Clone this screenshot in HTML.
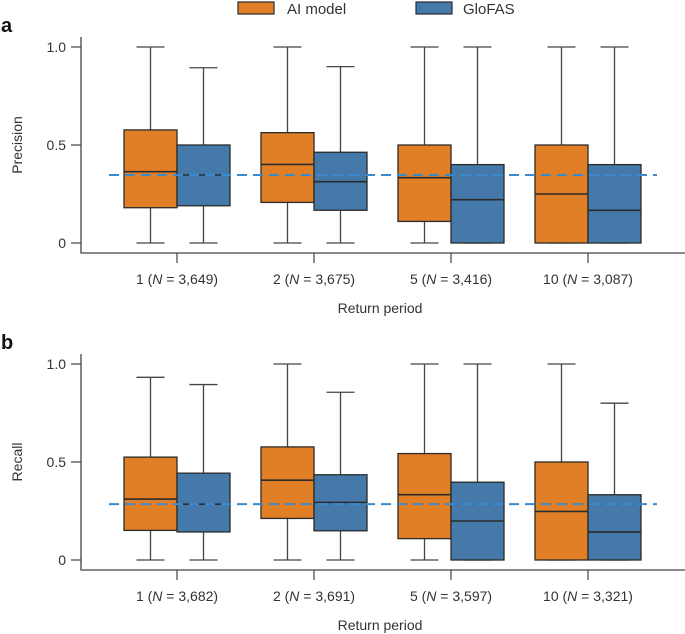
<!DOCTYPE html>
<html><head><meta charset="utf-8"><style>
body{margin:0;background:#fff}
svg{display:block;font-family:"Liberation Sans",sans-serif}
</style></head><body>
<svg id="chart" width="685" height="634"></svg>
<script>
const categories=["1","2","5","10"];
const nPrecision=["3,649","3,675","3,416","3,087"];
const nRecall=["3,682","3,691","3,597","3,321"];
// [whiskerLow, q1, median, q3, whiskerHigh]
const precisionAI=[[0,0.18,0.364,0.577,1],[0,0.207,0.401,0.563,1],[0,0.11,0.333,0.5,1],[0,0,0.25,0.5,1]];
const precisionGloFAS=[[0,0.19,0.347,0.5,0.894],[0,0.167,0.313,0.463,0.9],[0,0,0.221,0.4,1],[0,0,0.167,0.4,1]];
const recallAI=[[0,0.151,0.311,0.525,0.932],[0,0.212,0.407,0.577,1],[0,0.109,0.333,0.543,1],[0,0,0.248,0.5,1]];
const recallGloFAS=[[0,0.143,0.285,0.443,0.895],[0,0.149,0.294,0.435,0.856],[0,0,0.199,0.397,1],[0,0,0.143,0.333,0.8]];
const precisionRef=0.347;
const recallRef=0.285;
const yTicks=[0,0.5,1.0];
const yTickLabels=["0","0.5","1.0"];

const NS="http://www.w3.org/2000/svg";
const svg=document.getElementById("chart");
function mk(tag,attrs,parent){const e=document.createElementNS(NS,tag);for(const k in attrs)e.setAttribute(k,attrs[k]);(parent||svg).appendChild(e);return e;}
const ORANGE="#e07f26",BLUE="#4479a9",EDGE="#2b2b2b";
const xCenters=[177,314,451,588];
const BW=53;

function panel(top,letter,ylabel,ai,glo,ref,ns,key){
  const y0=top+196, y1=top;
  const y=v=>y0-(v*(y0-y1));
  const g=mk("g",{});
  
  
  const lt=mk("text",{x:1,y:top-15,"font-size":20,"font-weight":"bold",fill:"#111"},g);lt.textContent=letter;
  
  
  // axes
  const ax=mk("path",{d:`M81 ${top-10} V${y0+10} H685`,stroke:"#444","stroke-width":1.3,fill:"none"},g);
  
  
  yTicks.forEach((t,i)=>{
    mk("line",{x1:71,x2:81,y1:y(t),y2:y(t),stroke:"#444","stroke-width":1.2},g);
    const tx=mk("text",{x:66,y:y(t)+5,"font-size":14,"text-anchor":"end",fill:"#333"},g);tx.textContent=yTickLabels[i];
    
    
  });
  const yl=mk("text",{x:0,y:0,"font-size":14,fill:"#333","text-anchor":"middle",transform:`translate(22 ${y(0.5)}) rotate(-90)`},g);yl.textContent=ylabel;
  
  
  categories.forEach((c,i)=>{
    const cx=xCenters[i];
    mk("line",{x1:cx,x2:cx,y1:y0+10,y2:y0+20,stroke:"#444","stroke-width":1.2},g);
    const t=mk("text",{x:cx,y:top+237,"font-size":14,"text-anchor":"middle",fill:"#333"},g);
    t.innerHTML=`${c} (<tspan font-style="italic">N</tspan> = ${ns[i]})`;
    
    
    [[ai[i],ORANGE,cx-BW/2,'ai-model'],[glo[i],BLUE,cx+BW/2,'glofas']].forEach(([d,col,bx,nm])=>{
      const bg=mk("g",{},g);
      
      
      mk("line",{x1:bx,x2:bx,y1:y(d[0]),y2:y(d[4]),stroke:"#444","stroke-width":1.3},bg);
      mk("line",{x1:bx-14,x2:bx+14,y1:y(d[0]),y2:y(d[0]),stroke:"#444","stroke-width":1.3},bg);
      mk("line",{x1:bx-14,x2:bx+14,y1:y(d[4]),y2:y(d[4]),stroke:"#444","stroke-width":1.3},bg);
      mk("rect",{x:bx-BW/2,y:y(d[3]),width:BW,height:y(d[1])-y(d[3]),fill:col,stroke:EDGE,"stroke-width":1.3},bg);
      mk("line",{x1:bx-BW/2,x2:bx+BW/2,y1:y(d[2]),y2:y(d[2]),stroke:EDGE,"stroke-width":1.6},bg);
    });
  });
  const rl=mk("line",{x1:109,x2:657,y1:y(ref),y2:y(ref),stroke:"#3a8ad0","stroke-width":2,"stroke-dasharray":"10 6"},g);
  
  
  const xt=mk("text",{x:380,y:top+266,"font-size":14,"text-anchor":"middle",fill:"#333"},g);xt.textContent="Return period";
  
  
}
panel(47,"a","Precision",precisionAI,precisionGloFAS,precisionRef,nPrecision,"precision");
panel(364,"b","Recall",recallAI,recallGloFAS,recallRef,nRecall,"recall");

// legend
const lg=mk("g",{});


const l1=mk("g",{},lg);


mk("rect",{x:238,y:2,width:36,height:12,fill:ORANGE,stroke:EDGE,"stroke-width":1.2},l1);
mk("text",{x:287,y:14,"font-size":15,fill:"#333"},l1).textContent="AI model";
const l2=mk("g",{},lg);


mk("rect",{x:416,y:2,width:36,height:12,fill:BLUE,stroke:EDGE,"stroke-width":1.2},l2);
mk("text",{x:463,y:14,"font-size":15,fill:"#333"},l2).textContent="GloFAS";
</script>
</body></html>
